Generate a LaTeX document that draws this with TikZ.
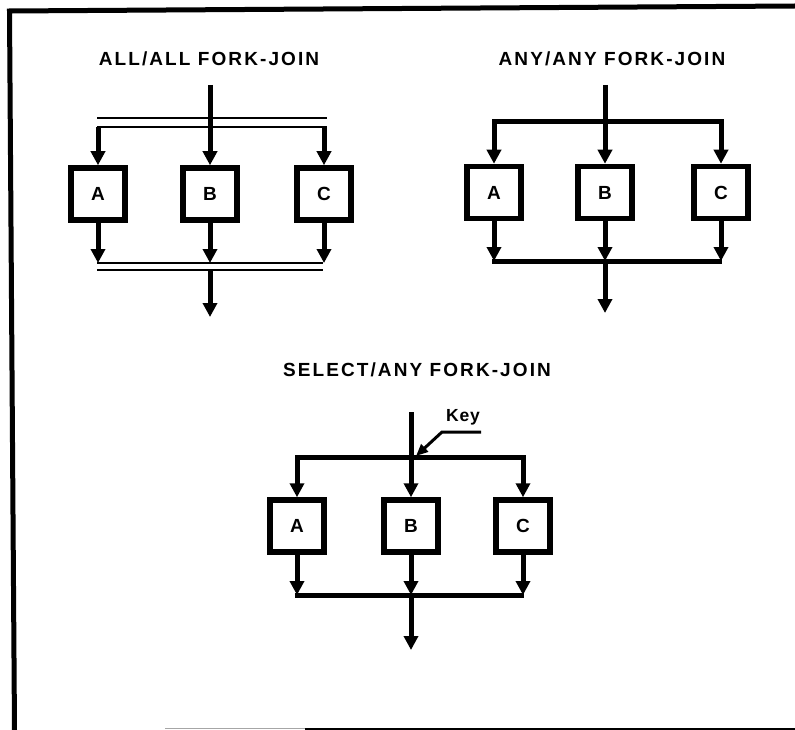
\documentclass[tikz,border=0pt]{standalone}
\usepackage{fontspec}
\setmainfont{Liberation Sans}
\usetikzlibrary{arrows.meta}
\begin{document}
\begin{tikzpicture}[x=1pt,y=-1pt,
  box/.style={draw, line width=5.5pt, minimum width=54pt, minimum height=52pt, inner sep=0pt,
    font=\bfseries\fontsize{19}{19}\selectfont},
  ttl/.style={font=\bfseries\fontsize{19}{21}\selectfont\addfontfeatures{LetterSpace=11}},
  flow/.style={line width=5pt, -{Triangle[width=14pt,length=14pt]}},
  bar/.style={line width=5pt},
  dline/.style={line width=2.5pt},
  keyarrow/.style={line width=3pt, -{Triangle[width=10pt,length=12pt]}},
  frame/.style={line width=5pt}
]
\useasboundingbox (0,0) rectangle (795,730);
% frame
\coordinate (fTL) at (9.5,11);
\coordinate (fTR) at (795,6);
\coordinate (fBL) at (14.5,730);
\draw[frame] (fBL) -- (fTL) -- (fTR);
\coordinate (b0) at (165,728.5);
\coordinate (b1) at (305,728.5);
\coordinate (b2) at (795,728.5);
\draw[line width=1.5pt, gray!70] (b0) -- (b1);
\draw[line width=2pt] (b1) -- (b2);

% ---------- ALL/ALL ----------
\node[ttl] (t1) at (209,59) {ALL/ALL FORK-JOIN};
\node[box] (A1) at (98,194) {A};
\node[box] (B1) at (210,194) {B};
\node[box] (C1) at (324,194) {C};
\coordinate (in1) at (210,85);
\coordinate (f1a) at (97,118);
\coordinate (f1b) at (327,118);
\coordinate (g1a) at (97,127);
\coordinate (g1b) at (327,127);
\draw[dline] (f1a) -- (f1b);
\draw[dline] (g1a) -- (g1b);
\draw[flow] (in1) -- (B1.north);
\draw[flow] (A1.north |- g1a) -- (A1.north);
\draw[flow] (C1.north |- g1a) -- (C1.north);
\coordinate (j1a) at (97,263);
\coordinate (j1b) at (323,263);
\coordinate (k1a) at (97,270);
\coordinate (k1b) at (323,270);
\draw[dline] (j1a) -- (j1b);
\draw[dline] (k1a) -- (k1b);
\draw[flow] (A1.south) -- (A1.south |- j1a);
\draw[flow] (B1.south) -- (B1.south |- j1a);
\draw[flow] (C1.south) -- (C1.south |- j1a);
\coordinate (out1) at (210,317);
\draw[flow] (B1.south |- k1a) -- (out1);

% ---------- ANY/ANY ----------
\node[ttl] (t2) at (612,59) {ANY/ANY FORK-JOIN};
\node[box] (A2) at (494,192.5) {A};
\node[box] (B2) at (605,192.5) {B};
\node[box] (C2) at (721,192.5) {C};
\coordinate (in2) at (605,85);
\coordinate (f2) at (605,122);
\draw[flow] (in2) -- (B2.north);
\draw[flow] (f2) -| (A2.north);
\draw[flow] (f2) -| (C2.north);
\coordinate (j2a) at (492,261);
\coordinate (j2b) at (722,261);
\draw[bar] (j2a) -- (j2b);
\draw[flow] (A2.south) -- (A2.south |- j2a);
\draw[flow] (B2.south) -- (B2.south |- j2a);
\draw[flow] (C2.south) -- (C2.south |- j2a);
\coordinate (out2) at (605,313);
\draw[flow] (B2.south |- j2a) -- (out2);

% ---------- SELECT/ANY ----------
\node[ttl] (t3) at (417,370) {SELECT/ANY FORK-JOIN};
\node[box] (A3) at (297,526) {A};
\node[box] (B3) at (411,526) {B};
\node[box] (C3) at (523,526) {C};
\coordinate (in3) at (411,412);
\coordinate (f3) at (411,457);
\draw[flow] (in3) -- (B3.north);
\draw[flow] (f3) -| (A3.north);
\draw[flow] (f3) -| (C3.north);
\coordinate (j3a) at (295,595);
\coordinate (j3b) at (524,595);
\draw[bar] (j3a) -- (j3b);
\draw[flow] (A3.south) -- (A3.south |- j3a);
\draw[flow] (B3.south) -- (B3.south |- j3a);
\draw[flow] (C3.south) -- (C3.south |- j3a);
\coordinate (out3) at (411,650);
\draw[flow] (B3.south |- j3a) -- (out3);
% key
\node[font=\bfseries\fontsize{17.5}{18}\selectfont\addfontfeatures{LetterSpace=5}] (key) at (463,417) {Key};
\coordinate (kk0) at (481,432);
\coordinate (kk1) at (442,432);
\coordinate (kk2) at (416,456);
\draw[keyarrow] (kk0) -- (kk1) -- (kk2);
\end{tikzpicture}
\end{document}
